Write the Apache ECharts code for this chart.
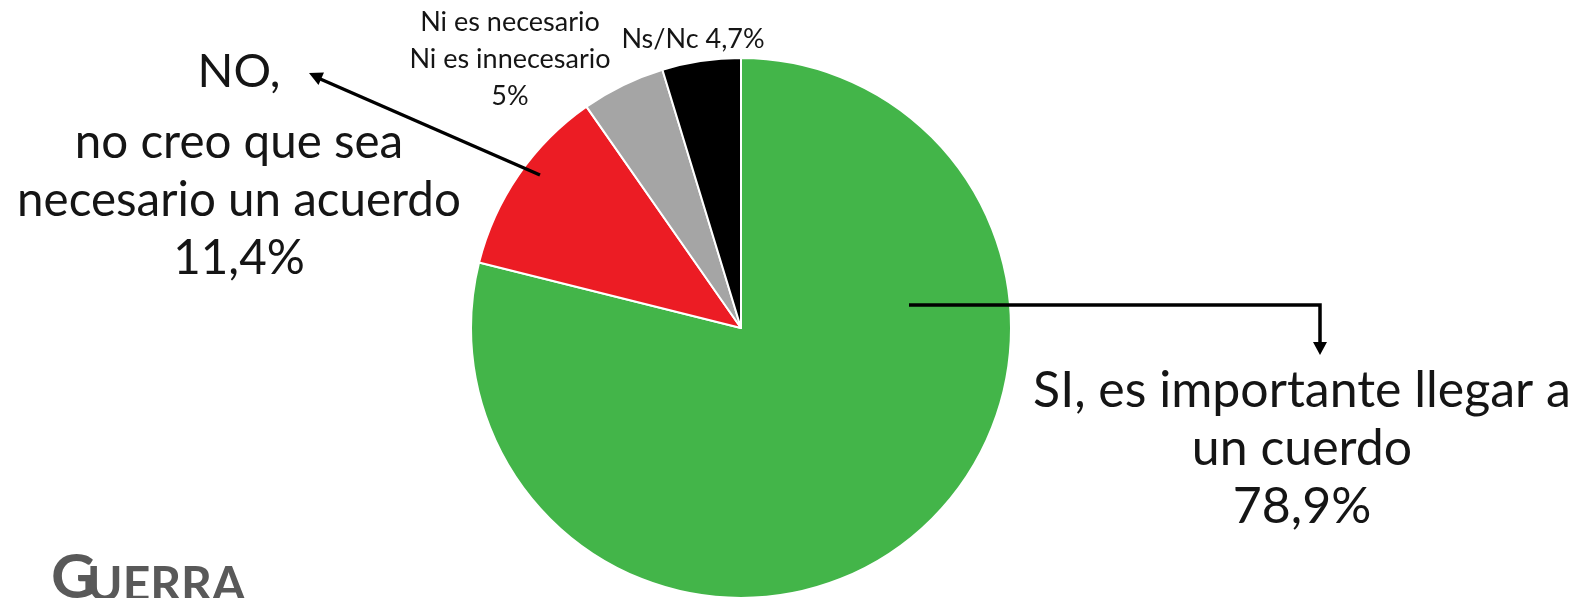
<!DOCTYPE html>
<html>
<head>
<meta charset="utf-8">
<script src="https://cdn.jsdelivr.net/npm/echarts@6/dist/echarts.min.js"></script>
<style>
html,body{margin:0;padding:0;background:#fff;}
#c{width:1584px;height:598px;}
</style>
</head>
<body>
<div id="c"></div>
<script>
var categories = [
  "SI, es importante llegar a\nun cuerdo",
  "NO,\nno creo que sea\nnecesario un acuerdo",
  "Ni es necesario\nNi es innecesario",
  "Ns/Nc"
];
var values = [78.9, 11.4, 5, 4.7];
var colors = ["#43b549", "#ec1c24", "#a5a5a5", "#000000"];

var chart = echarts.init(document.getElementById('c'));

function fmt(v){ return String(v).replace('.', ',') + '%'; }

var labelPos = [
  {x: 1302, y: 362},
  {x: 239, y: 30},
  {x: 510, y: 4},
  {x: 693, y: 21}
];

var data = categories.map(function(n, i){
  var text;
  if (i === 1) {
    var parts = n.split('\n');
    text = '{h|' + parts[0] + '}\n{b|' + parts[1] + '}\n{b|' + parts[2] + '}\n{b|' + fmt(values[i]) + '}';
  } else if (i === 0) {
    var p0 = n.split('\n');
    text = p0.map(function(s){return '{g|' + s + '}';}).join('\n') + '\n{g|' + fmt(values[i]) + '}';
  } else if (i === 2) {
    var p2 = n.split('\n');
    text = p2.map(function(s){return '{s|' + s + '}';}).join('\n') + '\n{s|' + fmt(values[i]) + '}';
  } else {
    text = '{s|' + n + ' ' + fmt(values[i]) + '}';
  }
  return {name: n, value: values[i], itemStyle: {color: colors[i]}, labelText: text};
});

var option = {
  backgroundColor: '#ffffff',
  animation: false,
  series: [{
    type: 'pie',
    center: [741, 328],
    radius: [0, 270],
    startAngle: 90,
    clockwise: true,
    avoidLabelOverlap: false,
    itemStyle: {borderColor: '#ffffff', borderWidth: 2},
    label: {
      show: true,
      position: 'outside',
      formatter: function(p){ return data[p.dataIndex].labelText; },
      color: '#151515',
      fontFamily: 'Lato',
      align: 'center',
      rich: {
        h: {fontFamily: 'Lato', fontSize: 47, lineHeight: 84, color: '#151515', align: 'center'},
        b: {fontFamily: 'Lato', fontSize: 47.5, lineHeight: 58, color: '#151515', align: 'center'},
        g: {fontFamily: 'Lato', fontSize: 50, lineHeight: 58, color: '#151515', align: 'center'},
        s: {fontFamily: 'Lato', fontSize: 27, lineHeight: 37, color: '#151515', align: 'center'}
      }
    },
    labelLine: {show: false},
    labelLayout: function(params){
      var lp = labelPos[params.dataIndex];
      return {x: lp.x, y: lp.y, align: 'center', verticalAlign: 'top'};
    },
    emphasis: {disabled: true},
    data: data.map(function(d){ return {name: d.name, value: d.value, itemStyle: d.itemStyle}; })
  }],
  graphic: [
    {type: 'polyline', z: 100, shape: {points: [[909, 305], [1320, 305], [1320, 344]]},
     style: {stroke: '#000', lineWidth: 3.5, fill: null}},
    {type: 'polygon', z: 100, shape: {points: [[1313, 342], [1327, 342], [1320, 355]]},
     style: {fill: '#000'}},
    {type: 'line', z: 100, shape: {x1: 540, y1: 175, x2: 318, y2: 78},
     style: {stroke: '#000', lineWidth: 3.5}},
    {type: 'polygon', z: 100, shape: {points: [[309, 73], [324, 72.5], [318.5, 85]]},
     style: {fill: '#000'}},
    {type: 'text', z: 100, left: 51, top: 547,
     style: {text: 'G', fontFamily: 'Lato', fontWeight: 'bold', fontSize: 62, fill: '#595959'}},
    {type: 'text', z: 100, left: 87, top: 562,
     style: {text: 'UERRA', fontFamily: 'Lato', fontWeight: 'bold', fontSize: 48, fill: '#595959'}}
  ]
};
chart.setOption(option);
</script>
</body>
</html>
